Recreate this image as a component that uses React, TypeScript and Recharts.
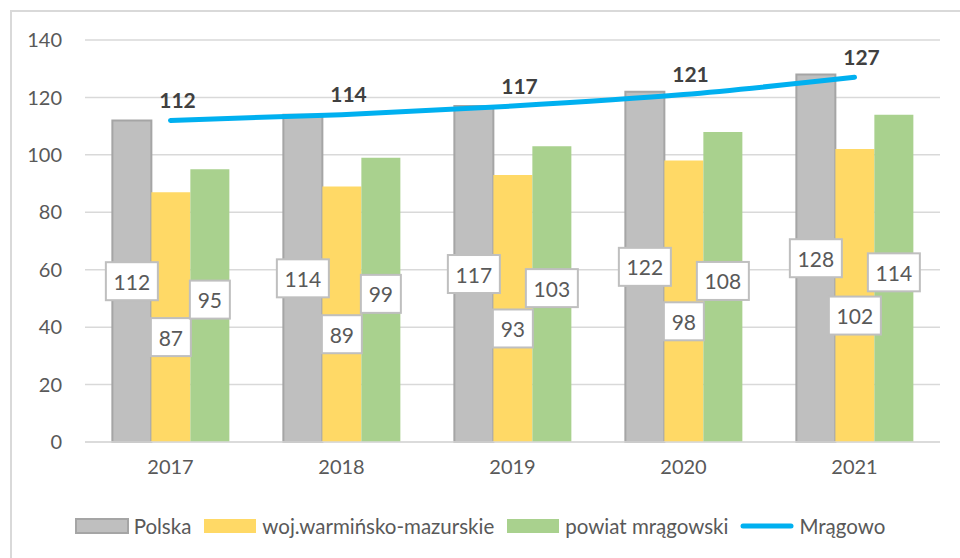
import React from 'react';
import { ComposedChart, Bar, Line, XAxis, YAxis, CartesianGrid, Legend, LabelList } from 'recharts';

const years = ['2017', '2018', '2019', '2020', '2021'];
const polska = [112, 114, 117, 122, 128];
const wojewodztwo = [87, 89, 93, 98, 102];
const powiat = [95, 99, 103, 108, 114];
const mragowo = [112, 114, 117, 121, 127];
const yTicks = [0, 20, 40, 60, 80, 100, 120, 140];
const seriesNames = ['Polska', 'woj.warmińsko-mazurskie', 'powiat mrągowski', 'Mrągowo'];

const data = years.map((y, i) => ({
  year: y,
  polska: polska[i],
  woj: wojewodztwo[i],
  powiat: powiat[i],
  mragowo: mragowo[i],
}));

const FONT = 'Lato, "Open Sans", sans-serif';
const TEXT = '#595959';
const COLORS = { polska: '#BFBFBF', polskaStroke: '#A5A5A5', woj: '#FFD966', powiat: '#A9D18E', line: '#00B0F0' };

const makeBoxLabel = (shift: number) => (props: any) => {
  const { x, y, width, height, value } = props;
  const s = String(value);
  const w = s.length * 12 + 16;
  const h = 38;
  const cx = Number(x) + Number(width) / 2;
  const cy = Number(y) + Number(height) / 2 + shift;
  return (
    <g>
      <rect x={cx - w / 2} y={cy - h / 2} width={w} height={h} fill="#ffffff" stroke="#BFBFBF" strokeWidth={2} />
      <text x={cx} y={cy} textAnchor="middle" dominantBaseline="central" fontFamily={FONT} fontSize={21} fill={TEXT}>
        {s}
      </text>
    </g>
  );
};

const lineLabel = (props: any) => {
  const { x, y, value } = props;
  return (
    <text x={Number(x) + 7} y={Number(y) - 21} textAnchor="middle" dominantBaseline="central" fontFamily={FONT} fontSize={21} fontWeight="bold" fill="#404040">
      {value}
    </text>
  );
};

const renderLegend = () => {
  const items = [
    { name: seriesNames[0], kind: 'rect', color: COLORS.polska, stroke: COLORS.polskaStroke },
    { name: seriesNames[1], kind: 'rect', color: COLORS.woj, stroke: 'none' },
    { name: seriesNames[2], kind: 'rect', color: COLORS.powiat, stroke: 'none' },
    { name: seriesNames[3], kind: 'line', color: COLORS.line, stroke: 'none' },
  ];
  return (
    <div style={{ display: 'flex', justifyContent: 'center', alignItems: 'center', fontFamily: FONT, fontSize: 20.5, color: TEXT }}>
      {items.map((it, i) => (
        <div key={it.name} style={{ display: 'flex', alignItems: 'center', marginRight: i < items.length - 1 ? 12 : 0 }}>
          <svg width={54} height={16} style={{ marginRight: 5 }}>
            {it.kind === 'rect' ? (
              <rect x={1} y={1} width={52} height={14} fill={it.color} stroke={it.stroke} strokeWidth={it.stroke === 'none' ? 0 : 2} />
            ) : (
              <line x1={3} y1={8} x2={51} y2={8} stroke={it.color} strokeWidth={5} strokeLinecap="round" />
            )}
          </svg>
          <span>{it.name}</span>
        </div>
      ))}
    </div>
  );
};

export default function App() {
  return (
    <div style={{ position: 'absolute', left: 0, top: 0, width: 960, height: 558, overflow: 'hidden', background: '#fff' }}>
      <div style={{ position: 'absolute', left: 10, top: 10, width: 980, height: 580, border: '2px solid #D9D9D9', boxSizing: 'border-box' }} />
      <ComposedChart
        width={960}
        height={558}
        data={data}
        margin={{ top: 40, right: 20, bottom: 86, left: 25 }}
        barCategoryGap="16%"
        barGap={0}
      >
        <CartesianGrid vertical={false} stroke="#D9D9D9" strokeWidth={1.5} />
        <XAxis
          dataKey="year"
          height={30}
          tickLine={false}
          axisLine={{ stroke: '#D9D9D9', strokeWidth: 1.5 }}
          tickSize={0}
          tickMargin={18}
          tick={{ fontFamily: FONT, fontSize: 20, fill: TEXT }}
        />
        <YAxis
          width={60}
          domain={[0, 140]}
          ticks={yTicks}
          tickLine={false}
          axisLine={false}
          tickSize={0}
          tickMargin={23}
          tick={{ fontFamily: FONT, fontSize: 20, fill: TEXT }}
        />
        <Bar dataKey="polska" name={seriesNames[0]} fill={COLORS.polska} stroke={COLORS.polskaStroke} strokeWidth={2} isAnimationActive={false}>
          <LabelList dataKey="polska" content={makeBoxLabel(0)} />
        </Bar>
        <Bar dataKey="woj" name={seriesNames[1]} fill={COLORS.woj} isAnimationActive={false}>
          <LabelList dataKey="woj" content={makeBoxLabel(20)} />
        </Bar>
        <Bar dataKey="powiat" name={seriesNames[2]} fill={COLORS.powiat} isAnimationActive={false}>
          <LabelList dataKey="powiat" content={makeBoxLabel(-6)} />
        </Bar>
        <Line
          type="monotone"
          dataKey="mragowo"
          name={seriesNames[3]}
          stroke={COLORS.line}
          strokeWidth={5}
          strokeLinecap="round"
          dot={false}
          activeDot={false}
          isAnimationActive={false}
        >
          <LabelList dataKey="mragowo" content={lineLabel} />
        </Line>
        <Legend
          layout="horizontal"
          verticalAlign="middle"
          align="center"
          wrapperStyle={{ top: 514, left: 0, width: 960 }}
          content={renderLegend}
        />
      </ComposedChart>
    </div>
  );
}
